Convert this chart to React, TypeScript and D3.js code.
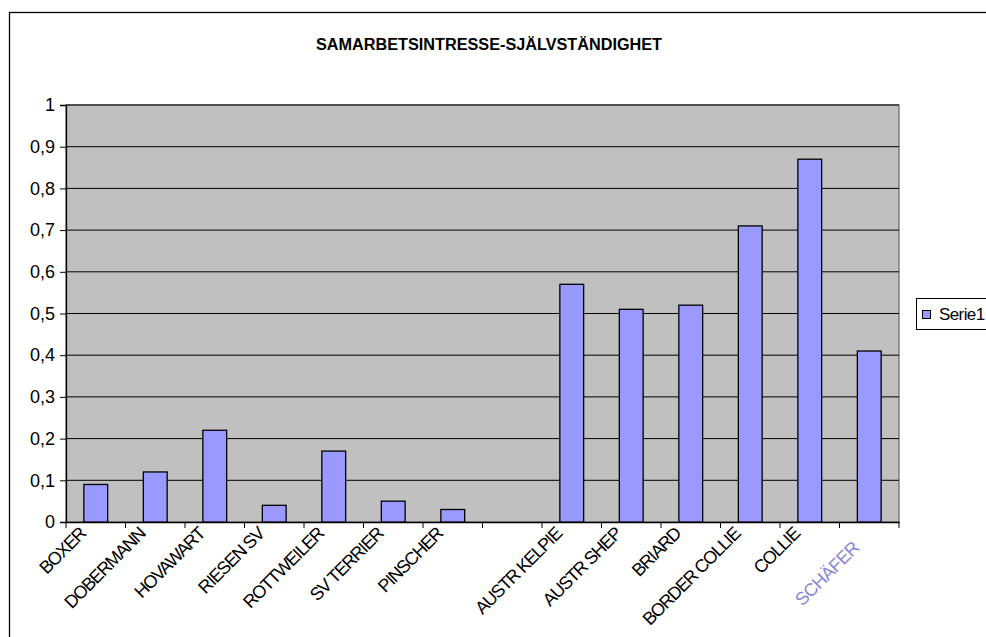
import { useEffect, useRef } from "react";
import * as d3 from "d3";

// data
const categories = [
  "BOXER",
  "DOBERMANN",
  "HOVAWART",
  "RIESEN SV",
  "ROTTWEILER",
  "SV TERRIER",
  "PINSCHER",
  "",
  "AUSTR KELPIE",
  "AUSTR SHEP",
  "BRIARD",
  "BORDER COLLIE",
  "COLLIE",
  "SCHÄFER",
];
const serie1: (number | null)[] = [
  0.09, 0.12, 0.22, 0.04, 0.17, 0.05, 0.03, null, 0.57, 0.51, 0.52, 0.71, 0.87, 0.41,
];
const yTicks = [0, 0.1, 0.2, 0.3, 0.4, 0.5, 0.6, 0.7, 0.8, 0.9, 1];
const title = "SAMARBETSINTRESSE-SJÄLVSTÄNDIGHET";
const seriesName = "Serie1";

export default function App() {
  const ref = useRef<HTMLDivElement>(null);

  useEffect(() => {
    if (!ref.current) return;
    d3.select(ref.current).selectAll("*").remove();

    const W = 986;
    const H = 637;
    const plot = { left: 66, right: 899, top: 105, bottom: 522 };
    const font = "'Liberation Sans', Arial, sans-serif";

    const svg = d3
      .select(ref.current)
      .append("svg")
      .attr("width", W)
      .attr("height", H)
      .style("display", "block")
      .style("background", "#fff");

    // outer chart frame (runs off the right and bottom edges)
    svg
      .append("rect")
      .attr("x", 9.5)
      .attr("y", 12.5)
      .attr("width", W + 20)
      .attr("height", H + 20)
      .attr("fill", "#fff")
      .attr("stroke", "#000")
      .attr("stroke-width", 1.3);

    // title
    svg
      .append("text")
      .attr("x", 489)
      .attr("y", 50)
      .attr("text-anchor", "middle")
      .attr("font-family", font)
      .attr("font-weight", "bold")
      .attr("font-size", 16)
      .attr("textLength", 346)
      .attr("lengthAdjust", "spacingAndGlyphs")
      .text(title);

    const x = d3
      .scaleBand<string>()
      .domain(categories.map((c, i) => i + ""))
      .range([plot.left, plot.right])
      .padding(0);

    const y = d3.scaleLinear().domain([0, 1]).range([plot.bottom, plot.top]);

    // plot area
    svg
      .append("rect")
      .attr("x", plot.left)
      .attr("y", plot.top)
      .attr("width", plot.right - plot.left)
      .attr("height", plot.bottom - plot.top)
      .attr("fill", "#c0c0c0")
      .attr("stroke", "#808080")
      .attr("stroke-width", 1.5);

    // gridlines
    svg
      .append("g")
      .selectAll("line")
      .data(yTicks.filter((t) => t > 0))
      .enter()
      .append("line")
      .attr("x1", plot.left)
      .attr("x2", plot.right)
      .attr("y1", (d) => y(d))
      .attr("y2", (d) => y(d))
      .attr("stroke", "#000")
      .attr("stroke-width", 1);

    // y axis
    const yAxis = svg
      .append("g")
      .attr("transform", `translate(${plot.left},0)`)
      .call(
        d3
          .axisLeft(y)
          .tickValues(yTicks)
          .tickSize(6)
          .tickPadding(5)
          .tickFormat((d) => d3.format("~g")(d as number).replace(".", ","))
      );
    yAxis.select(".domain").attr("stroke", "#000").attr("stroke-width", 1.3);
    yAxis.selectAll(".tick line").attr("stroke", "#000");
    yAxis
      .selectAll("text")
      .attr("font-family", font)
      .attr("font-size", 18)
      .attr("fill", "#000");

    // x axis
    const xAxis = svg
      .append("g")
      .attr("transform", `translate(0,${plot.bottom})`)
      .call(d3.axisBottom(x).tickSize(0).tickFormat(() => ""));
    xAxis.select(".domain").attr("stroke", "#000").attr("stroke-width", 1.3);

    // category separator ticks
    svg
      .append("g")
      .selectAll("line")
      .data(d3.range(categories.length + 1))
      .enter()
      .append("line")
      .attr("x1", (i) => plot.left + i * x.step())
      .attr("x2", (i) => plot.left + i * x.step())
      .attr("y1", plot.bottom)
      .attr("y2", plot.bottom + 6)
      .attr("stroke", "#000");

    // bars (gap width 150%)
    const barW = x.step() / 2.5;
    svg
      .append("g")
      .selectAll("rect")
      .data(serie1.map((v, i) => ({ v, i })).filter((d) => d.v !== null))
      .enter()
      .append("rect")
      .attr("x", (d) => (x(d.i + "") || 0) + (x.bandwidth() - barW) / 2)
      .attr("y", (d) => y(d.v as number))
      .attr("width", barW)
      .attr("height", (d) => plot.bottom - y(d.v as number))
      .attr("fill", "#9999ff")
      .attr("stroke", "#000")
      .attr("stroke-width", 1.3);

    // category labels, rotated
    const last = categories.length - 1;
    svg
      .append("g")
      .selectAll("text")
      .data(categories.map((c, i) => ({ c, i })))
      .enter()
      .append("text")
      .attr("transform", (d) => {
        const cx = (x(d.i + "") || 0) + x.bandwidth() / 2;
        const off = d.i === last ? 14 : 0;
        return `translate(${cx - 9},${plot.bottom + 13 + off}) rotate(-45)`;
      })
      .attr("text-anchor", "end")
      .attr("font-family", font)
      .attr("font-size", 18)
      .attr("letter-spacing", (d) => (d.i === last ? -0.6 : -1.3))
      .attr("fill", (d) => (d.i === last ? "#8a86d6" : "#000"))
      .text((d) => d.c);

    // legend
    const lg = svg.append("g").attr("transform", "translate(916,298)");
    lg.append("rect")
      .attr("x", 0.5)
      .attr("y", 0.5)
      .attr("width", 90)
      .attr("height", 31)
      .attr("fill", "#fff")
      .attr("stroke", "#000");
    lg.append("rect")
      .attr("x", 6.5)
      .attr("y", 12.5)
      .attr("width", 8)
      .attr("height", 8)
      .attr("fill", "#9999ff")
      .attr("stroke", "#000");
    lg.append("text")
      .attr("x", 23)
      .attr("y", 22)
      .attr("font-family", font)
      .attr("font-size", 17)
      .attr("letter-spacing", -0.6)
      .text(seriesName);
  }, []);

  return <div ref={ref} style={{ position: "absolute", left: 0, top: 0 }} />;
}
